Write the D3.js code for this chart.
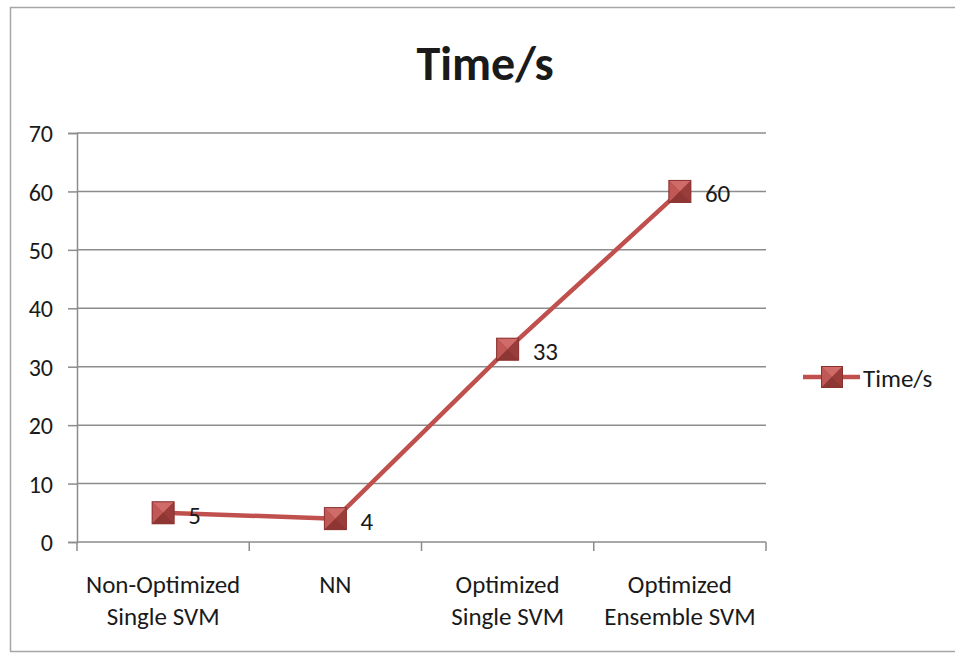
<!DOCTYPE html>
<html>
<head>
<meta charset="utf-8">
<script src="https://cdn.jsdelivr.net/npm/d3@7"></script>
<style>
  html, body { margin: 0; padding: 0; background: #fff; overflow: hidden; }
  svg { display: block; overflow: hidden; }
  text { font-family: Carlito, Calibri, Lato, "Liberation Sans", sans-serif; fill: #1a1a1a; }
</style>
</head>
<body>
<svg id="chart" width="955" height="653"></svg>
<script>
// Series data
const categories = [
  ["Non-Optimized", "Single SVM"],
  ["NN"],
  ["Optimized", "Single SVM"],
  ["Optimized", "Ensemble SVM"]
];
const seriesName = "Time/s";
const values = [5, 4, 33, 60];
const yTicks = [0, 10, 20, 30, 40, 50, 60, 70];

const svg = d3.select("#chart");
const lineColor = "#c0504d";
const axisColor = "#8c8c8c";
const fontStack = "Carlito, Calibri, Lato, 'Liberation Sans', sans-serif";

// Chart area frame (runs off the right edge)
svg.append("rect")
  .attr("x", 10.5).attr("y", 7.5)
  .attr("width", 1100).attr("height", 644)
  .attr("fill", "#fff")
  .attr("stroke", "#a6a6a6").attr("stroke-width", 1.5);

// Plot area
const plot = { left: 77, right: 766, top: 133, bottom: 542 };
const x = d3.scaleBand()
  .domain(d3.range(categories.length))
  .range([plot.left, plot.right]);
const y = d3.scaleLinear().domain([0, 70]).range([plot.bottom, plot.top]);

// Horizontal gridlines
svg.append("g")
  .selectAll("line")
  .data(yTicks.filter(d => d > 0))
  .join("line")
  .attr("x1", plot.left).attr("x2", plot.right)
  .attr("y1", d => y(d)).attr("y2", d => y(d))
  .attr("stroke", axisColor).attr("stroke-width", 1.5);

// Y axis
const yAxis = d3.axisLeft(y).tickValues(yTicks).tickSize(9).tickPadding(15);
const gy = svg.append("g").attr("transform", `translate(${plot.left},0)`).call(yAxis);
gy.select(".domain").attr("stroke", axisColor).attr("stroke-width", 1.5);
gy.selectAll(".tick line").attr("stroke", axisColor).attr("stroke-width", 1.5);
gy.selectAll(".tick text").attr("font-size", 24).attr("fill", "#1a1a1a")
  .attr("dy", "0.36em")
  .style("font-family", fontStack);

// X axis (category boundaries as ticks)
const gx = svg.append("g");
gx.append("line")
  .attr("x1", plot.left).attr("x2", plot.right)
  .attr("y1", plot.bottom).attr("y2", plot.bottom)
  .attr("stroke", axisColor).attr("stroke-width", 1.5);
const bounds = d3.range(categories.length + 1).map(i =>
  i < categories.length ? x(i) : x(categories.length - 1) + x.bandwidth());
gx.selectAll("line.tk")
  .data(bounds)
  .join("line").attr("class", "tk")
  .attr("x1", d => d).attr("x2", d => d)
  .attr("y1", plot.bottom).attr("y2", plot.bottom + 9)
  .attr("stroke", axisColor).attr("stroke-width", 1.5);

// Category labels
const cx = i => x(i) + x.bandwidth() / 2;
const catG = svg.append("g").selectAll("text")
  .data(categories)
  .join("text")
  .attr("text-anchor", "middle")
  .attr("font-size", 25)
  .attr("transform", (d, i) => `translate(${cx(i)},593)`);
catG.selectAll("tspan")
  .data(d => d)
  .join("tspan")
  .attr("x", 0)
  .attr("dy", (d, i) => i === 0 ? 0 : 32)
  .text(d => d);

// Bevelled square marker
function marker(g, s) {
  const h = s / 2;
  g.append("rect").attr("x", -h).attr("y", -h).attr("width", s).attr("height", s)
    .attr("fill", "#a94240");
  const facets = [
    { p: [[-h, -h], [h, -h], [0, 0]], c: "#cf6b68" },
    { p: [[-h, -h], [-h, h], [0, 0]], c: "#c05855" },
    { p: [[h, -h], [h, h], [0, 0]], c: "#9a3c3a" },
    { p: [[-h, h], [h, h], [0, 0]], c: "#8e3634" }
  ];
  facets.forEach(f => g.append("path")
    .attr("d", "M" + f.p.map(q => q.join(",")).join("L") + "Z")
    .attr("fill", f.c));
  g.append("rect").attr("x", -h).attr("y", -h).attr("width", s).attr("height", s)
    .attr("fill", "none").attr("stroke", "#8a3230").attr("stroke-width", 1);
}

// Series line
const line = d3.line().x((d, i) => cx(i)).y(d => y(d));
svg.append("path")
  .datum(values)
  .attr("d", line)
  .attr("fill", "none")
  .attr("stroke", lineColor)
  .attr("stroke-width", 4.5)
  .attr("stroke-linejoin", "round");

// Markers
values.forEach((v, i) => {
  const g = svg.append("g").attr("transform", `translate(${cx(i)},${y(v)})`);
  marker(g, 22);
});

// Data labels
svg.append("g").selectAll("text")
  .data(values)
  .join("text")
  .attr("x", (d, i) => cx(i) + 25)
  .attr("y", d => y(d) + 11)
  .attr("font-size", 25)
  .text(d => d);

// Title
svg.append("text")
  .attr("x", 485).attr("y", 80)
  .attr("text-anchor", "middle")
  .attr("font-size", 48)
  .attr("font-weight", "bold")
  .attr("fill", "#000")
  .text(seriesName);

// Legend
const lg = svg.append("g").attr("transform", "translate(803,377)");
lg.append("line").attr("x1", 0).attr("x2", 57).attr("y1", 0).attr("y2", 0)
  .attr("stroke", lineColor).attr("stroke-width", 4.5);
marker(lg.append("g").attr("transform", "translate(29,0)"), 21);
lg.append("text").attr("x", 60).attr("y", 10).attr("font-size", 25).text(seriesName);
</script>
</body>
</html>
